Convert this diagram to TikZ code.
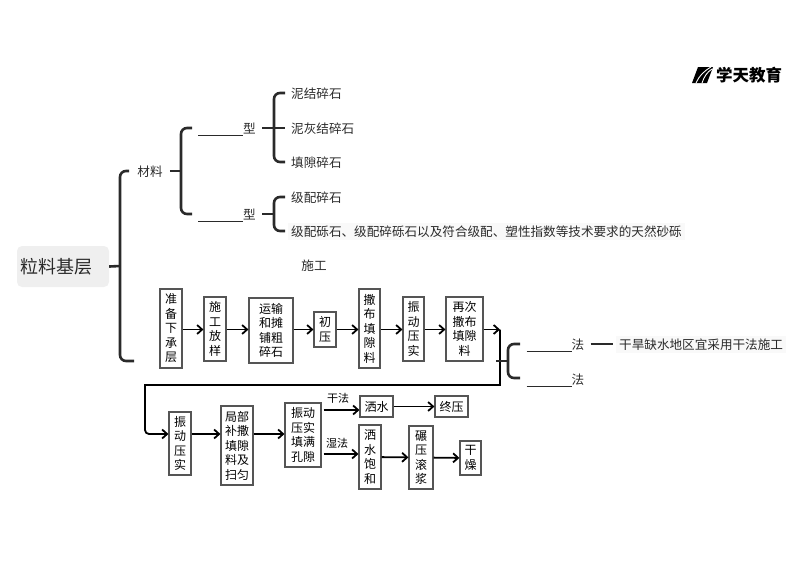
\documentclass[tikz,border=0pt]{standalone}
\usepackage{fontspec}
\setmainfont{Noto Sans CJK SC}
\usepackage{xcolor}
\usetikzlibrary{arrows.meta}
\definecolor{inkgray}{HTML}{2A2A2A}
\definecolor{edgegray}{HTML}{555555}
\definecolor{softgray}{HTML}{EFEFEF}
\definecolor{palegray}{HTML}{F9F9F9}
\tikzset{
  stepbox/.style={draw=edgegray,line width=1.1pt,fill=white,inner sep=0pt,align=center,text=black,
    font=\fontsize{12}{14.5}\selectfont},
  flow/.style={line width=1.8pt,black,-{Straight Barb[length=5pt,width=9pt]}},
  tree/.style={line width=2.6pt,inkgray,rounded corners=6pt},
  item/.style={inner sep=0pt,text=inkgray,text height=11pt,text depth=0pt,font=\fontsize{12.6}{15}\selectfont},
  itemleft/.style={item,anchor=west},
  note/.style={inner sep=0pt,text=black,font=\fontsize{11}{14}\selectfont}
}
\begin{document}
\begin{tikzpicture}[x=1pt,y=-1pt]
\useasboundingbox (0,0) rectangle (800,566);
% logo
\fill[black] (698,67) -- (713,67) -- (707,83) -- (692,83) -- cycle;
\draw[white,line width=.9pt] (696,83) .. controls (699,76) and (704,71) .. (711,67);
\draw[white,line width=.9pt] (702,83) .. controls (704,77) and (707,72) .. (712,69);
\node[inner sep=0pt,font=\fontsize{16.5}{16.5}\selectfont\bfseries] (logo) at (749,75) {学天教育};
% upper tree
\node[rounded corners=5pt,fill=softgray,text width=86pt,inner xsep=3pt,minimum height=41pt,align=left,
  font=\fontsize{18}{18}\selectfont,text=inkgray] (root) at (63,266.5) {粒料基层};
\node[item] (cailiao) at (150,171) {材料};
\node[item] (xinga) at (227,128) {\underline{\hspace{45pt}}型};
\node[item] (xingb) at (227,214) {\underline{\hspace{45pt}}型};
\node[itemleft] (nijie) at (291,93) {泥结碎石};
\node[itemleft] (huijie) at (291,128) {泥灰结碎石};
\node[itemleft] (tianxi) at (291,162) {填隙碎石};
\node[itemleft] (jipei) at (291,197) {级配碎石};
\node[itemleft,fill=palegray,inner sep=3pt] (shali) at (288,231) {级配砾石、级配碎砾石以及符合级配、塑性指数等技术要求的天然砂砾};
\node[item] (shigong) at (314,265) {施工};
\coordinate (maintop) at (129,171);
\coordinate (mainbot) at (134,361);
\coordinate (mainmid) at (120,266);
\draw[tree] (maintop) -- (120,171) -- (120,361) -- (mainbot);
\draw[tree] (root.east) -- (mainmid);
\coordinate (cailiaomid) at (181,171);
\coordinate (xingatop) at (192,128);
\coordinate (xingabot) at (192,214);
\draw[tree] (xingatop) -- (181,128) -- (181,214) -- (xingabot);
\draw[tree] ([xshift=7pt]cailiao.east) -- (cailiaomid);
\coordinate (nijieend) at (285,93);
\coordinate (tianxiend) at (285,162);
\draw[tree] (nijieend) -- (274,93) -- (274,162) -- (tianxiend);
\draw[tree] ([xshift=6pt]xinga.east) -- ([xshift=-6pt]huijie.west);
\coordinate (jipeiend) at (285,197);
\coordinate (shaliend) at (285,231);
\draw[tree] (jipeiend) -- (274,197) -- (274,231) -- (shaliend);
\draw[tree] ([xshift=6pt]xingb.east) -- (274,214);
% first row
\coordinate (rowa) at (0,329.5);
\node[stepbox,minimum width=22pt,minimum height=79pt] (zhunbei) at (171,328.5) {准\\备\\下\\承\\层};
\node[stepbox,minimum width=22pt,minimum height=64pt] (fangyang) at (215,329) {施\\工\\放\\样};
\node[stepbox,minimum width=44pt,minimum height=65pt] (yunshu) at (271,330.5) {运输\\和摊\\铺粗\\碎石};
\node[stepbox,minimum width=22pt,minimum height=35pt] (chuya) at (325,329.5) {初\\压};
\node[stepbox,minimum width=21pt,minimum height=79pt] (sabu) at (369.5,328.5) {撒\\布\\填\\隙\\料};
\node[stepbox,minimum width=21pt,minimum height=64pt] (zhendong) at (413.5,329) {振\\动\\压\\实};
\node[stepbox,minimum width=37pt,minimum height=64pt] (zaici) at (464.5,329) {再次\\撒布\\填隙\\料};
\draw[flow] (zhunbei.east |- rowa) -- (fangyang.west |- rowa);
\draw[flow] (fangyang.east |- rowa) -- (yunshu.west |- rowa);
\draw[flow] (yunshu.east |- rowa) -- (chuya.west |- rowa);
\draw[flow] (chuya.east |- rowa) -- (sabu.west |- rowa);
\draw[flow] (sabu.east |- rowa) -- (zhendong.west |- rowa);
\draw[flow] (zhendong.east |- rowa) -- (zaici.west |- rowa);
\coordinate (turn) at (500,329.5);
\draw[flow] (zaici.east |- rowa) -- (turn);
% second row
\coordinate (rowb) at (0,434);
\node[stepbox,minimum width=22pt,minimum height=63pt] (zhendongb) at (180,443.5) {振\\动\\压\\实};
\node[stepbox,minimum width=32pt,minimum height=79pt] (jubu) at (237,445.5) {局部\\补撒\\填隙\\料及\\扫匀};
\node[stepbox,minimum width=36pt,minimum height=64pt] (kongxi) at (303,435) {振动\\压实\\填满\\孔隙};
\node[stepbox,minimum width=33pt,minimum height=21pt] (sashui) at (376.5,406.5) {洒水};
\node[stepbox,minimum width=33pt,minimum height=21pt] (zhongya) at (451.5,406.5) {终压};
\node[stepbox,minimum width=22pt,minimum height=64pt] (baohe) at (370,457) {洒\\水\\饱\\和};
\node[stepbox,minimum width=24pt,minimum height=63pt] (nianya) at (421,457.5) {碾\\压\\滚\\浆};
\node[stepbox,minimum width=21pt,minimum height=34pt] (ganzao) at (470.5,458) {干\\燥};
\node[note] (ganfa) at (338,398) {干法};
\node[note] (shifa) at (337,443) {湿法};
\draw[flow] (turn) -- (500,385) -- (145,385) [rounded corners=4pt] -- (145,434) -- (zhendongb.west |- rowb);
\draw[flow] (zhendongb.east |- rowb) -- (jubu.west |- rowb);
\draw[flow] (jubu.east |- rowb) -- (kongxi.west |- rowb);
\draw[flow] ([xshift=2pt,yshift=25pt]kongxi.east) -- ([yshift=-3.5pt]sashui.west);
\draw[flow] ([xshift=2pt,yshift=-19pt]kongxi.east) -- ([yshift=3pt]baohe.west);
\draw[flow] (sashui) -- (zhongya);
\draw[flow] (baohe) -- (nianya);
\draw[flow] (nianya) -- (ganzao);
% construction methods
\node[item] (faa) at (555.5,344) {\underline{\hspace{45pt}}法};
\node[item] (fab) at (555.5,379) {\underline{\hspace{45pt}}法};
\node[itemleft,fill=palegray,inner sep=3pt] (ganhan) at (616,344) {干旱缺水地区宜采用干法施工};
\coordinate (faatop) at (520,344);
\coordinate (fabbot) at (520,378);
\draw[tree] (faatop) -- (508,344) -- (508,378) -- (fabbot);
\coordinate (stubleft) at (496,361);
\draw[tree] (stubleft) -- (508,361);
\draw[tree] ([xshift=6pt]faa.east) -- ([xshift=-3pt]ganhan.west);
\end{tikzpicture}
\end{document}
